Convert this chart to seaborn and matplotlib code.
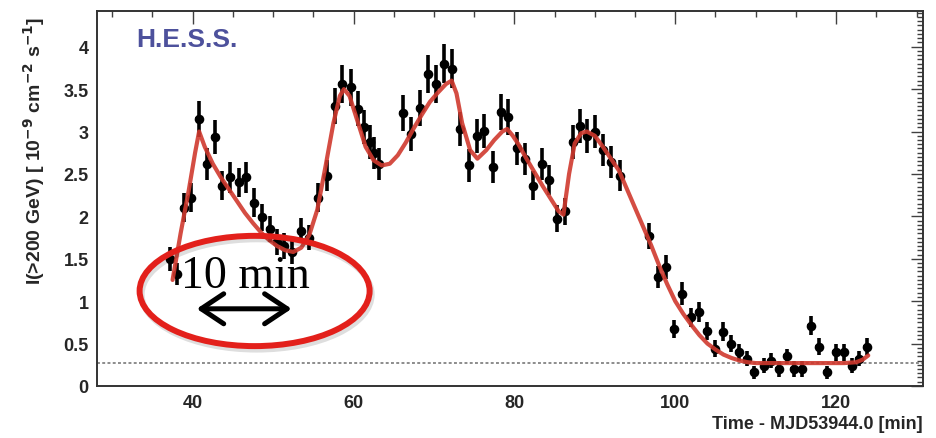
import matplotlib
matplotlib.use("Agg")
import matplotlib.pyplot as plt
import seaborn as sns
from matplotlib.patches import Ellipse
from matplotlib import patheffects as pe
from matplotlib.ticker import MultipleLocator

# Light-curve points: time (min since MJD 53944.0), flux above 200 GeV, 1-sigma error
t_min = [37.2, 38.0, 38.9, 39.8, 40.8, 41.8, 42.8, 43.7, 44.7, 45.7, 46.6, 47.6,
         48.6, 49.6, 50.5, 51.4, 52.4, 53.5, 54.5, 55.6, 56.7, 57.7, 58.6, 59.7,
         60.6, 61.3, 62.0, 62.6, 63.2, 66.1, 67.2, 68.3, 69.2, 70.2, 71.2, 72.2,
         73.2, 74.3, 75.3, 76.2, 77.3, 78.3, 79.2, 80.3, 81.3, 82.3, 83.4, 84.3,
         85.3, 86.3, 87.3, 88.1, 89.0, 90.0, 91.0, 92.0, 93.1, 96.8, 97.8, 98.9,
         99.9, 100.8, 101.9, 103.0, 104.0, 104.9, 105.9, 106.9, 107.9, 108.9,
         109.8, 111.0, 111.9, 112.9, 113.9, 114.8, 115.8, 116.9, 117.9, 118.9,
         120.0, 121.0, 122.0, 122.9, 123.9]
flux = [1.50, 1.32, 2.10, 2.22, 3.15, 2.62, 2.93, 2.36, 2.46, 2.40, 2.46, 2.16,
        1.99, 1.85, 1.70, 1.65, 1.58, 1.83, 1.75, 2.22, 2.48, 3.30, 3.56, 3.52,
        3.27, 3.05, 2.88, 2.75, 2.62, 3.22, 2.97, 3.28, 3.68, 3.56, 3.80, 3.74,
        3.03, 2.60, 2.95, 3.01, 2.58, 3.23, 3.17, 2.80, 2.68, 2.36, 2.62, 2.43,
        1.97, 2.06, 2.88, 3.06, 2.95, 3.00, 2.78, 2.64, 2.48, 1.77, 1.28, 1.40,
        0.67, 1.09, 0.81, 0.87, 0.65, 0.44, 0.64, 0.50, 0.40, 0.32,
        0.16, 0.24, 0.30, 0.20, 0.35, 0.20, 0.20, 0.71, 0.46, 0.16,
        0.40, 0.40, 0.24, 0.32, 0.46]
flux_err = [0.14, 0.13, 0.17, 0.17, 0.21, 0.19, 0.20, 0.17, 0.18, 0.17, 0.18, 0.17,
            0.16, 0.15, 0.15, 0.15, 0.14, 0.15, 0.15, 0.17, 0.18, 0.21, 0.22, 0.22,
            0.21, 0.20, 0.20, 0.19, 0.19, 0.21, 0.20, 0.21, 0.22, 0.22, 0.23, 0.23,
            0.20, 0.19, 0.20, 0.20, 0.19, 0.21, 0.21, 0.20, 0.19, 0.17, 0.19, 0.18,
            0.16, 0.16, 0.20, 0.20, 0.20, 0.20, 0.19, 0.19, 0.18, 0.15, 0.13, 0.14,
            0.11, 0.13, 0.11, 0.12, 0.11, 0.10, 0.11, 0.10, 0.10, 0.09,
            0.08, 0.09, 0.09, 0.09, 0.09, 0.09, 0.09, 0.11, 0.10, 0.08,
            0.10, 0.10, 0.09, 0.09, 0.10]
bin_half = 0.5

# Burst-profile fit, sampled along the time axis
fit_t = [37.5, 38.5, 39.5, 40.3, 40.8, 41.5, 42.5, 43.5, 44.5, 45.5, 46.5, 47.5,
         48.5, 49.5, 50.5, 51.5, 52.5, 53.5, 54.5, 55.5, 56.5, 57.5, 58.3, 58.8,
         59.5, 60.5, 61.5, 62.5, 63.5, 64.5, 65.5, 66.5, 67.5, 68.5, 69.5, 70.5,
         71.5, 72.2, 72.8, 73.5, 74.5, 75.4, 76.5, 77.5, 78.5, 79.1, 79.8, 80.5,
         81.5, 82.5, 83.5, 84.5, 85.5, 86.1, 86.8, 87.5, 88.3, 89.0, 90.0, 91.0,
         92.0, 93.0, 94.0, 95.0, 96.0, 97.0, 98.0, 99.0, 100.0, 101.0, 102.0,
         103.0, 104.0, 105.0, 106.0, 107.0, 108.0, 109.0, 110.0, 112.0, 115.0,
         118.0, 121.0, 122.5, 123.3, 124.0]
fit_flux = [1.25, 1.80, 2.30, 2.75, 3.00, 2.82, 2.62, 2.46, 2.32, 2.18, 2.04, 1.92,
            1.81, 1.72, 1.65, 1.60, 1.58, 1.63, 1.78, 2.08, 2.58, 3.10, 3.42, 3.50,
            3.42, 3.12, 2.82, 2.66, 2.60, 2.62, 2.72, 2.87, 3.04, 3.20, 3.35, 3.46,
            3.56, 3.60, 3.45, 3.10, 2.78, 2.68, 2.78, 2.90, 3.00, 3.03, 2.95, 2.85,
            2.68, 2.52, 2.36, 2.21, 2.06, 2.02, 2.50, 2.86, 2.98, 3.00, 2.95, 2.82,
            2.68, 2.54, 2.32, 2.10, 1.88, 1.66, 1.42, 1.20, 1.00, 0.85, 0.72,
            0.60, 0.50, 0.43, 0.37, 0.33, 0.30, 0.28, 0.27, 0.27, 0.27,
            0.27, 0.27, 0.28, 0.31, 0.36]

baseline_level = 0.27

x_ticks = [40, 60, 80, 100, 120]
y_ticks = [0, 0.5, 1, 1.5, 2, 2.5, 3, 3.5, 4]
y_tick_labels = ["0", "0.5", "1", "1.5", "2", "2.5", "3", "3.5", "4"]

sns.set_style("white")
plt.rcParams["font.family"] = ["Liberation Sans", "DejaVu Sans"]
plt.rcParams["mathtext.default"] = "bf"

fig = plt.figure(figsize=(9.37, 4.39), dpi=100)
ax = fig.add_axes([0.1035, 0.1185, 0.8815, 0.854])

ax.axhline(baseline_level, color="0.55", lw=1.4, ls=(0, (1.5, 1.2)), zorder=1)

ax.errorbar(t_min, flux, yerr=flux_err, xerr=bin_half, fmt="none",
            ecolor="black", elinewidth=2.6, capsize=0, zorder=3)
sns.scatterplot(x=t_min, y=flux, color="black", s=48, edgecolor="black",
                linewidth=0, zorder=4, ax=ax, legend=False)
sns.lineplot(x=fit_t, y=fit_flux, color="#d0392e", lw=3.0, alpha=0.9,
             sort=False, zorder=5, ax=ax, legend=False)

ax.set_xlim(28.1, 130.8)
ax.set_ylim(0, 4.42)
ax.set_xticks(x_ticks)
ax.set_xticklabels([str(v) for v in x_ticks])
ax.set_yticks(y_ticks)
ax.set_yticklabels(y_tick_labels)
ax.xaxis.set_minor_locator(MultipleLocator(5))
ax.yaxis.set_minor_locator(MultipleLocator(0.05))
ax.tick_params(which="both", direction="in", top=True, right=True,
               color="0.25", width=1.0)
ax.tick_params(which="major", length=9, labelsize=13, pad=6)
ax.tick_params(which="minor", length=4.5)
for lab in ax.get_xticklabels() + ax.get_yticklabels():
    lab.set_fontweight("bold")
    lab.set_color("0.15")
for sp in ax.spines.values():
    sp.set_visible(True)
    sp.set_color("0.2")
    sp.set_linewidth(1.4)

ax.set_xlabel("")
ax.set_ylabel("")
fig.text(0.985, 0.032, "Time - MJD53944.0 [min]", ha="right", va="center",
         fontsize=13, fontweight="bold", color="0.15")
fig.text(0.036, 0.655, r"I(>200 GeV) [ 10$^{-9}$ cm$^{-2}$ s$^{-1}$]",
         rotation=90, ha="center", va="center", fontsize=14,
         fontweight="bold", color="0.15")

ax.text(0.048, 0.925, "H.E.S.S.", transform=ax.transAxes, ha="left",
        va="center", fontsize=19, fontweight="bold", color="#4d519c")

# Ten-minute scale marker
ring = Ellipse((47.7, 1.12), width=28.6, height=1.30, fill=False,
               edgecolor="#e3201b", lw=4.3, zorder=7,
               path_effects=[pe.SimpleLineShadow(offset=(1.5, -2.5), alpha=0.13,
                                                 shadow_color="black"),
                             pe.Normal()])
ax.add_patch(ring)
ax.text(46.5, 1.17, "10 min", ha="center", va="baseline", fontsize=33,
        family=["Liberation Serif", "DejaVu Serif"], color="black", zorder=8)
ax.annotate("", xy=(40.5, 0.91), xytext=(52.3, 0.91),
            arrowprops=dict(arrowstyle="<->,head_length=0.9,head_width=0.6",
                            lw=3.6, color="black", mutation_scale=18,
                            shrinkA=0, shrinkB=0),
            zorder=8)

fig.savefig("out.png", dpi=100, facecolor="white")
